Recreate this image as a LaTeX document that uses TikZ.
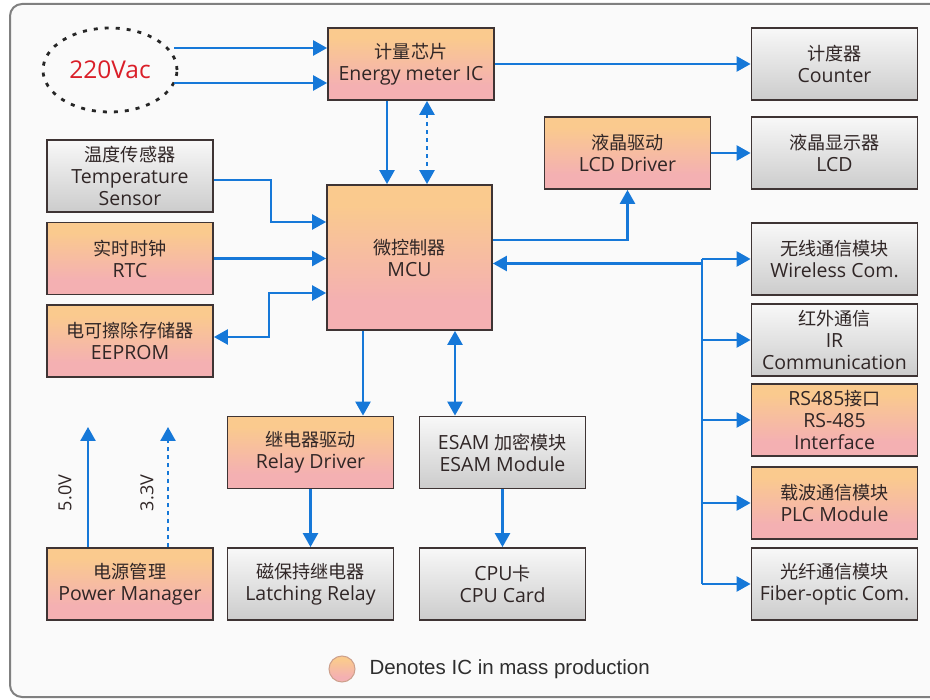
\documentclass[tikz,border=0pt]{standalone}
\usepackage{fontspec}
\setmainfont{Open Sans}
\newfontfamily\cjk[Scale=0.93]{Noto Sans CJK SC}
\newfontfamily\legendfont{Liberation Sans}
\usetikzlibrary{arrows.meta,shapes.geometric,calc}
\definecolor{icorange}{RGB}{250,202,142}
\definecolor{icpink}{RGB}{244,176,178}
\definecolor{grayt}{RGB}{248,248,248}
\definecolor{grayb}{RGB}{204,204,204}
\definecolor{bordc}{RGB}{62,52,52}
\definecolor{txtc}{RGB}{48,38,38}
\definecolor{arrc}{RGB}{22,120,216}
\definecolor{framec}{RGB}{128,128,128}
\definecolor{acred}{RGB}{218,30,40}
\definecolor{legbord}{RGB}{205,160,140}
\pgfdeclareverticalshading{icshade}{100bp}{color(0bp)=(icpink); color(35bp)=(icpink); color(68bp)=(icorange); color(100bp)=(icorange)}
\newcommand\zh[1]{{\cjk #1}}
\tikzset{
  box/.style={draw=bordc, line width=1.8pt, minimum width=166pt, minimum height=72pt,
    inner sep=0pt, align=center, text=txtc, font=\fontsize{19.5}{22}\selectfont},
  icbox/.style={box, shading=icshade},
  graybox/.style={box, top color=grayt, bottom color=grayb},
  arr/.style={draw=arrc, line width=2.5pt, -{Triangle[length=14pt,width=15pt]}},
  darr/.style={draw=arrc, line width=2.5pt, {Triangle[length=14pt,width=15pt]}-{Triangle[length=14pt,width=15pt]}},
  busline/.style={draw=arrc, line width=2.5pt},
  dots/.style={dash pattern=on 4pt off 4pt},
  vlabel/.style={rotate=90, text=txtc, font=\fontsize{18}{20}\selectfont}
}
\begin{document}
\begin{tikzpicture}[x=1pt,y=-1pt]
\useasboundingbox (0,0) rectangle (930,700);
\draw[framec, line width=2pt, rounded corners=12pt, fill=white!98!black] (10,4) rectangle (948,697);

% nodes
\node[ellipse, draw=black!85, line width=2.8pt, dash pattern=on 4pt off 7pt,
      minimum width=134pt, minimum height=84pt, text=acred, font=\fontsize{24.5}{27}\selectfont] (ac) at (110,70) {220Vac};
\node[icbox] (em) at (411,64) {\zh{计量芯片}\\Energy meter IC};
\node[graybox] (counter) at (834.5,64) {\zh{计度器}\\Counter};
\node[graybox] (temp) at (130,176) {\zh{温度传感器}\\Temperature\\Sensor};
\node[icbox] (rtc) at (130,258.5) {\zh{实时时钟}\\RTC};
\node[icbox] (eeprom) at (130,341) {\zh{电可擦除存储器}\\EEPROM};
\node[icbox, minimum width=165pt, minimum height=145pt] (mcu) at (409.5,257.5) {\zh{微控制器}\\MCU};
\node[icbox] (lcddrv) at (627.5,153) {\zh{液晶驱动}\\LCD Driver};
\node[graybox] (lcd) at (834.5,153) {\zh{液晶显示器}\\LCD};
\node[graybox] (wireless) at (834.5,259) {\zh{无线通信模块}\\Wireless Com.};
\node[graybox] (ir) at (834.5,340) {\zh{红外通信}\\IR\\Communication};
\node[icbox] (rs485) at (834.5,420) {RS485\zh{接口}\\RS-485\\Interface};
\node[icbox] (plc) at (834.5,503) {\zh{载波通信模块}\\PLC Module};
\node[graybox] (fiber) at (834.5,584) {\zh{光纤通信模块}\\Fiber-optic Com.};
\node[icbox] (relay) at (310.5,452.5) {\zh{继电器驱动}\\Relay Driver};
\node[graybox] (esam) at (502.5,452.5) {ESAM \zh{加密模块}\\ESAM Module};
\node[icbox] (power) at (130,584) {\zh{电源管理}\\Power Manager};
\node[graybox] (latch) at (310.5,584) {\zh{磁保持继电器}\\Latching Relay};
\node[graybox] (cpu) at (502.5,584) {CPU\zh{卡}\\CPU Card};

% connectors
\draw[arr] ($(ac.center)+(64,-22)$) coordinate (a1) -- (a1 -| em.west);
\draw[arr] ($(ac.center)+(64,13)$) coordinate (a2) -- (a2 -| em.west);
\coordinate (k1) at ([xshift=-24pt]em.south);
\coordinate (k2) at ([xshift=16pt]em.south);
\draw[arr] (k1) -- (k1 |- mcu.north);
\draw[darr, dots] (k2) -- (k2 |- mcu.north);
\draw[arr] (em.east) -- (em.east -| counter.west);
\draw[arr] ([yshift=-4pt]temp.east) -- ++(57,0) |- ([yshift=35.5pt]mcu.west);
\draw[arr] (rtc.east) -- (rtc.east -| mcu.west);
\draw[darr] ([yshift=-35.5pt]mcu.west) -- ++(-57,0) |- ([yshift=4pt]eeprom.east);
\draw[arr] ([yshift=17.5pt]mcu.east) -| (lcddrv.south);
\draw[arr] (lcddrv.east) -- (lcddrv.east -| lcd.west);
\coordinate (bx) at (702,0);
\coordinate (m1) at ([yshift=-6pt]mcu.east);
\draw[arr] (m1 -| bx) -- (m1);
\draw[busline] (bx |- wireless.west) -- (bx |- fiber.west);
\foreach \b in {wireless,ir,rs485,plc,fiber} \draw[arr] (bx |- \b.west) -- (\b.west);
\coordinate (r1) at ([xshift=-46.5pt]mcu.south);
\coordinate (e1) at ([xshift=45.5pt]mcu.south);
\draw[arr] (r1) -- (r1 |- relay.north);
\draw[darr] (e1) -- (e1 |- esam.north);
\draw[arr] (relay.south) -- (latch.north);
\draw[arr] (esam.south) -- (cpu.north);
\coordinate (p5) at ([xshift=-42pt]power.north);
\coordinate (p3) at ([xshift=38pt]power.north);
\coordinate (p5e) at (88,427);
\coordinate (p3e) at (168,427);
\draw[arr] (p5) -- (p5e);
\draw[arr, dots] (p3) -- (p3e);
\node[vlabel] (l5) at (65,493) {5.0V};
\node[vlabel] (l3) at (147,493) {3.3V};

% legend
\node[circle, minimum size=26pt, inner sep=0pt, shading=icshade, draw=legbord, line width=1pt] (leg) at (342,669) {};
\node[anchor=west, text=black!82, font=\legendfont\fontsize{20.5}{22}\selectfont] (legt) at (366,669) {Denotes IC in mass production};
\end{tikzpicture}
\end{document}
